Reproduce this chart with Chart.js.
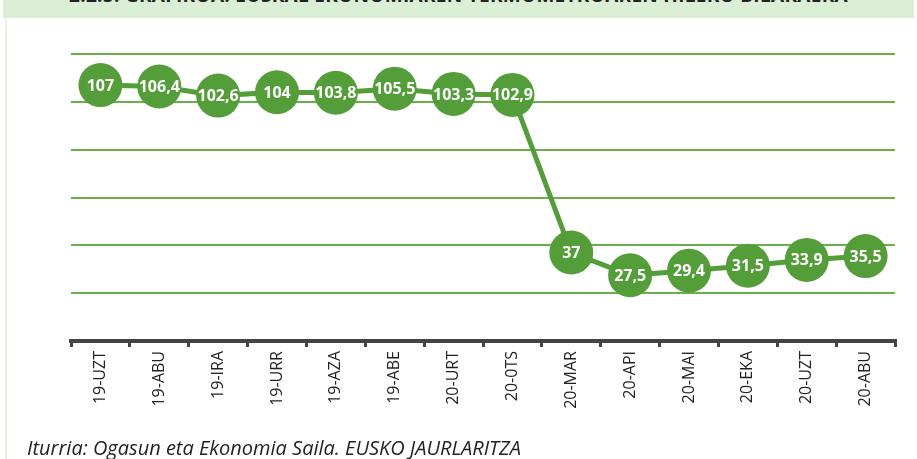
<!DOCTYPE html>
<html>
<head>
<meta charset="utf-8">
<script src="https://cdn.jsdelivr.net/npm/chart.js@4"></script>
<style>
  body { margin: 0; width: 917px; height: 459px; overflow: hidden; background: #fff; position: relative; font-family: "Open Sans", sans-serif; }
  #band { position: absolute; left: 3px; top: 0; width: 911px; height: 18px; background: #dbefd4; overflow: hidden; }
  #band span { position: absolute; left: 0; right: 0; top: -18px; text-align: center; font-weight: bold; font-size: 19px; color: #222; white-space: nowrap; letter-spacing: 0.3px; }
  #edge { position: absolute; left: 5px; top: 18px; width: 2px; height: 441px; background: #e8f3dd; }
  #wrap { position: absolute; left: 0; top: 0; width: 917px; height: 459px; }
  #src { position: absolute; left: 27px; top: 434px; font-style: italic; font-size: 20px; color: #222; white-space: nowrap; }
</style>
</head>
<body>
<div id="band"><span>2.2.5. GRAFIKOA. EUSKAL EKONOMIAREN TERMOMETROAREN HILEKO BILAKAERA</span></div>
<div id="edge"></div>
<div id="wrap"><canvas id="grafikoa"></canvas></div>
<div id="src">Iturria: Ogasun eta Ekonomia Saila. EUSKO JAURLARITZA</div>
<script>
const hilabeteak = ["19-UZT", "19-ABU", "19-IRA", "19-URR", "19-AZA", "19-ABE", "20-URT", "20-0TS",
  "20-MAR", "20-API", "20-MAI", "20-EKA", "20-UZT", "20-ABU"];
const termometroa = [107, 106.4, 102.6, 104, 103.8, 105.5, 103.3, 102.9, 37, 27.5, 29.4, 31.5, 33.9, 35.5];
const ardatzTick = [0, 20, 40, 60, 80, 100, 120];

const berdea = "#549e39";

// balioak zirkuluen barruan
const etiketak = {
  id: "etiketak",
  afterDatasetsDraw(chart) {
    const ctx = chart.ctx;
    const meta = chart.getDatasetMeta(0);
    ctx.save();
    ctx.fillStyle = "#ffffff";
    ctx.font = "bold 16px 'Open Sans'";
    ctx.textAlign = "center";
    ctx.textBaseline = "middle";
    meta.data.forEach((p, i) => {
      ctx.fillText(String(termometroa[i]).replace(".", ","), p.x, p.y + 1);
    });
    ctx.restore();
  },
};

new Chart(document.getElementById("grafikoa"), {
  type: "line",
  data: {
    labels: hilabeteak,
    datasets: [
      {
        label: "Termometroa",
        data: termometroa,
        borderColor: berdea,
        backgroundColor: berdea,
        borderWidth: 5,
        pointRadius: 22,
        pointBorderWidth: 0,
        pointBackgroundColor: berdea,
        tension: 0,
      },
    ],
  },
  options: {
    responsive: true,
    maintainAspectRatio: false,
    animation: false,
    layout: { padding: { left: 71, right: 5, top: 54, bottom: 0 } },
    plugins: {
      legend: { display: false },
      title: { display: false },
      tooltip: { enabled: false },
    },
    scales: {
      x: {
        offset: true,
        grid: { offset: true, drawOnChartArea: false, drawTicks: true, tickLength: 6, color: "#444", lineWidth: 3 },
        border: { color: "#444", width: 4 },
        ticks: {
          minRotation: 90,
          maxRotation: 90,
          autoSkip: false,
          color: "#222",
          padding: 4,
          font: { family: "Open Sans", size: 16 },
        },
        afterFit(scale) { scale.height = 118; },
      },
      y: {
        min: 0,
        max: 120,
        afterBuildTicks(scale) { scale.ticks = ardatzTick.map(v => ({ value: v })); },
        ticks: { display: false },
        grid: { color: "#6aaf4d", lineWidth: 2, drawTicks: false },
        border: { display: false },
        afterFit(scale) { scale.width = 0; },
      },
    },
  },
  plugins: [etiketak],
});
</script>
</body>
</html>
